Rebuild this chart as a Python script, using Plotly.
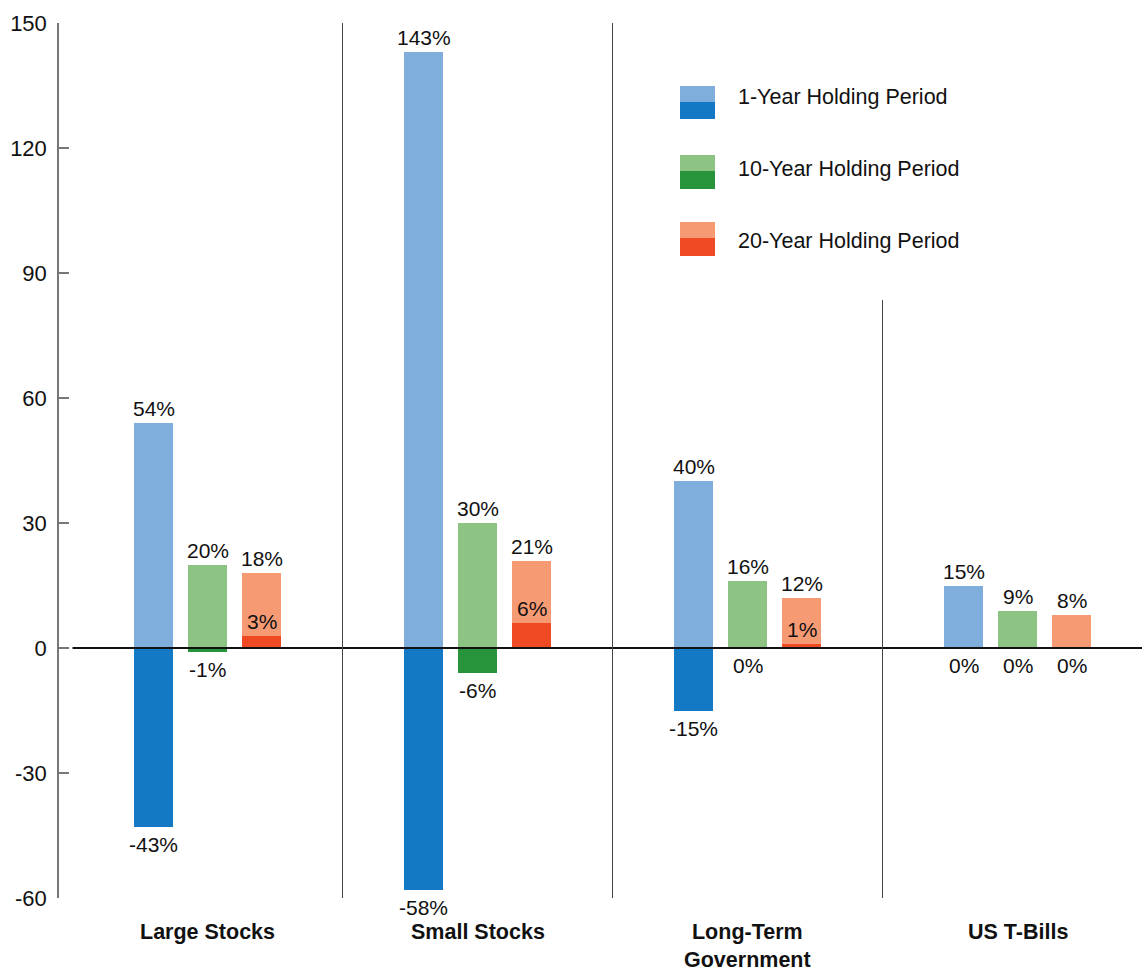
import plotly.graph_objects as go

# ---------------- data ----------------
categories = ["Large Stocks", "Small Stocks", "Long-Term<br>Government", "US T-Bills"]
period_names = ["1-Year Holding Period", "10-Year Holding Period", "20-Year Holding Period"]

one_year_max = [54, 143, 40, 15]
one_year_min = [-43, -58, -15, 0]
ten_year_max = [20, 30, 16, 9]
ten_year_min = [-1, -6, 0, 0]
twenty_year_max = [18, 21, 12, 8]
twenty_year_min = [3, 6, 1, 0]

y_ticks = [-60, -30, 0, 30, 60, 90, 120, 150]

# ---------------- style ----------------
W, H = 1142, 972
M_L, M_R, M_T, M_B = 59, 0, 23, 74
PW, PH = W - M_L - M_R, H - M_T - M_B

light_colors = ["#7FAEDD", "#8DC484", "#F69A74"]
dark_colors = ["#1479C4", "#27933B", "#EF4A23"]
offsets = [-0.2, 0.0, 0.2]
bar_w = 0.1444
x_range = [-0.55, 3.4611]

FONT_NUM = "Liberation Sans, Arial, sans-serif"
FONT_TICK = "Liberation Sans Narrow, Arial Narrow, Liberation Sans, sans-serif"

series = [
    (one_year_max, one_year_min),
    (ten_year_max, ten_year_min),
    (twenty_year_max, twenty_year_min),
]

fig = go.Figure()
annotations = []
lab_font = dict(family=FONT_NUM, size=21, color="#111")

for k, (mx, mn) in enumerate(series):
    xs = [i + offsets[k] for i in range(len(categories))]
    fig.add_trace(go.Bar(x=xs, y=mx, width=bar_w, marker=dict(color=light_colors[k], line=dict(width=0)),
                         name=period_names[k], showlegend=False, hoverinfo="skip"))
    fig.add_trace(go.Bar(x=xs, y=mn, width=bar_w, marker=dict(color=dark_colors[k], line=dict(width=0)),
                         name=period_names[k], showlegend=False, hoverinfo="skip"))
    for x, v in zip(xs, mx):
        annotations.append(dict(x=x, y=v, xref="x", yref="y", text=f"{v}%", showarrow=False,
                                yanchor="bottom", yshift=1, font=lab_font))
    for x, v in zip(xs, mn):
        if v > 0:
            annotations.append(dict(x=x, y=v, xref="x", yref="y", text=f"{v}%", showarrow=False,
                                    yanchor="bottom", yshift=1, font=lab_font))
        else:
            annotations.append(dict(x=x, y=v, xref="x", yref="y", text=f"{v}%", showarrow=False,
                                    yanchor="top", yshift=-4, font=lab_font))

# category labels
for i, c in enumerate(categories):
    annotations.append(dict(x=i, y=0, xref="x", yref="paper", text=f"<b>{c}</b>", showarrow=False,
                            yanchor="top", yshift=-20, align="center",
                            font=dict(family=FONT_NUM, size=21.5, color="#111")))

shapes = []
# zero line
shapes.append(dict(type="line", xref="x", yref="y", x0=-0.5, x1=x_range[1], y0=0, y1=0,
                   line=dict(color="#111", width=2), layer="above"))
# separators
for sx, top in [(0.5, 150), (1.5, 150), (2.5, 83.5)]:
    shapes.append(dict(type="line", xref="x", yref="y", x0=sx, x1=sx, y0=-60, y1=top,
                       line=dict(color="#444", width=1)))

# custom legend
def px_x(p):
    return (p - M_L) / PW

def px_y(p):
    return (M_T + PH - p) / PH

legend_rows = [(86, 102, 119, 97), (155, 171, 189, 169), (222, 238, 256, 241)]
for k, (t, m, b, ty) in enumerate(legend_rows):
    shapes.append(dict(type="rect", xref="paper", yref="paper", x0=px_x(680), x1=px_x(715),
                       y0=px_y(m), y1=px_y(t), fillcolor=light_colors[k], line=dict(width=0)))
    shapes.append(dict(type="rect", xref="paper", yref="paper", x0=px_x(680), x1=px_x(715),
                       y0=px_y(b), y1=px_y(m), fillcolor=dark_colors[k], line=dict(width=0)))
    annotations.append(dict(x=px_x(736), y=px_y(ty), xref="paper", yref="paper",
                            text=period_names[k], showarrow=False, xanchor="left", yanchor="middle",
                            font=dict(family=FONT_NUM, size=21.5, color="#111")))

fig.update_layout(
    width=W, height=H,
    margin=dict(l=M_L, r=M_R, t=M_T, b=M_B),
    paper_bgcolor="white", plot_bgcolor="white",
    barmode="overlay", bargap=0,
    showlegend=False,
    xaxis=dict(range=x_range, showgrid=False, zeroline=False, showline=False,
               showticklabels=False, ticks=""),
    yaxis=dict(range=[-60, 150], tickvals=y_ticks, ticktext=[str(v) for v in y_ticks],
               showgrid=False, zeroline=False, showline=True, linecolor="#777", linewidth=1.5,
               ticks="inside", ticklen=10, tickwidth=1.5, tickcolor="#777",
               ticklabelstandoff=6,
               tickfont=dict(family=FONT_TICK, size=22, color="#111")),
    annotations=annotations,
    shapes=shapes,
)

fig.write_html("out.html")
